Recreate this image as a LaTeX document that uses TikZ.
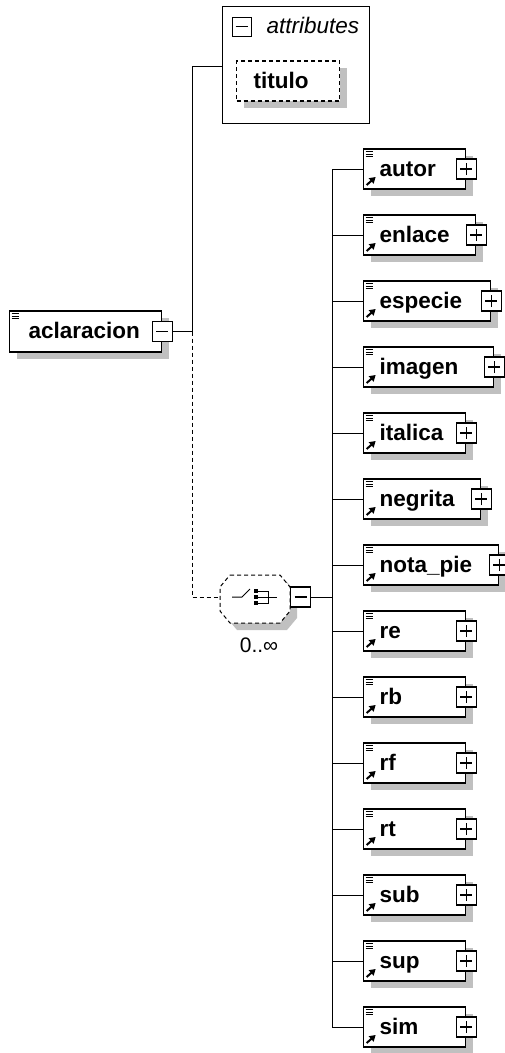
\documentclass[tikz,border=0pt]{standalone}
\usepackage{fontspec}
\setmainfont{Liberation Sans}
\usetikzlibrary{shadows,arrows.meta}

\definecolor{shadowgray}{RGB}{192,192,192}

\tikzset{
  conn/.style={line width=1pt},
  optconn/.style={conn, dash pattern=on 4pt off 3pt},
  boxshadow/.style={general shadow={fill=shadowgray, shadow xshift=7pt, shadow yshift=-7pt}},
  elembase/.style={draw, fill=white, line width=1.3pt, anchor=west,
    inner xsep=0pt, inner ysep=0pt, minimum height=40pt,
    text height=16pt, text depth=2pt, align=left,
    font=\fontsize{22.5}{24}\selectfont\bfseries, boxshadow},
  rootbox/.style={elembase, execute at begin node={\hspace*{19pt}},
    path picture={
      \draw[line width=1pt]
        ([shift={(2,2.5)}]path picture bounding box.north west) -- ++(7,0)
        ([shift={(2,5)}]path picture bounding box.north west) -- ++(7,0)
        ([shift={(2,7.5)}]path picture bounding box.north west) -- ++(7,0);}},
  refbox/.style={elembase, execute at begin node={\hspace*{16pt}},
    path picture={
      \draw[line width=1pt]
        ([shift={(2,2.5)}]path picture bounding box.north west) -- ++(7,0)
        ([shift={(2,5)}]path picture bounding box.north west) -- ++(7,0)
        ([shift={(2,7.5)}]path picture bounding box.north west) -- ++(7,0);
      \draw[line width=2pt, -{Triangle[length=6pt,width=7pt]}]
        ([shift={(3,-4)}]path picture bounding box.south west) -- ++(9,-8);}},
  attrnode/.style={elembase, execute at begin node={\hspace*{17pt}},
    dash pattern=on 4pt off 3pt},
  attrbox/.style={draw, fill=white, line width=1.3pt, inner sep=0pt},
  xbox/.style={draw, fill=white, line width=1.3pt, minimum size=20pt, inner sep=0pt},
  xminus/.style={xbox, path picture={
      \draw[line width=1.3pt] ([xshift=-6pt]path picture bounding box.center)
        -- ([xshift=6pt]path picture bounding box.center);}},
  xplus/.style={xbox, path picture={
      \draw[line width=1.3pt] ([xshift=-6pt]path picture bounding box.center)
        -- ([xshift=6pt]path picture bounding box.center)
        ([yshift=-6pt]path picture bounding box.center)
        -- ([yshift=6pt]path picture bounding box.center);}},
  choicebox/.style={minimum width=70pt, minimum height=48pt, inner sep=0pt},
  attrlbl/.style={anchor=base west, font=\fontsize{22.5}{24}\selectfont\itshape},
  cardlbl/.style={anchor=base, font=\fontsize{21}{23}\selectfont}
}

\begin{document}
\begin{tikzpicture}[x=1pt,y=-1pt]
  \useasboundingbox (0,0) rectangle (504,1053);

  % root element
  \node[rootbox, text width=152, minimum height=41pt] (aclaracion) at (9,331.5) {aclaracion};
  \node[xminus] (aclaracion-x) at (aclaracion.east) {};

  % attributes
  \node[attrbox, anchor=north west, minimum width=147pt, minimum height=117pt] (attrs) at (222,6) {};
  \node[xminus, minimum size=19pt, line width=1pt] (attrs-x) at (241.5,26.5) {};
  \node[attrlbl] (attrs-t) at (263,33) {attributes};
  \node[attrnode, text width=103] (titulo) at (236,81) {titulo};

  % choice
  \node[choicebox] (choice) at (255,599) {};
  \begin{scope}[shift={(choice.center)}]
    \fill[shadowgray, shift={(7,7)}] (-25,-24) -- (25,-24) -- (35,-12) -- (35,12)
      -- (25,24) -- (-25,24) -- (-35,12) -- (-35,-12) -- cycle;
    \draw[optconn, fill=white] (-25,-24) -- (25,-24) -- (35,-12) -- (35,12)
      -- (25,24) -- (-25,24) -- (-35,12) -- (-35,-12) -- cycle;
    \draw[conn] (-23,-2) -- ++(10,0) -- ++(8,-8);
    \fill (-1,-10) rectangle ++(4,4);
    \fill (-1,-4) rectangle ++(4,4);
    \fill (-1,2) rectangle ++(4,4);
    \draw[conn] (3,-8) -- ++(10,0) -- ++(0,12) -- ++(-10,0) (3,-2) -- ++(19,0);
  \end{scope}
  \node[xminus] (choice-x) at (300.5,597) {};
  \node[cardlbl] (card) at (259,652) {0..∞};

  % children
  \node[refbox, text width=102] (autor)    at (363,169)  {autor};
  \node[refbox, text width=112] (enlace)   at (363,235)  {enlace};
  \node[refbox, text width=127] (especie)  at (363,301)  {especie};
  \node[refbox, text width=130] (imagen)   at (363,367)  {imagen};
  \node[refbox, text width=102] (italica)  at (363,433)  {italica};
  \node[refbox, text width=117] (negrita)  at (363,499)  {negrita};
  \node[refbox, text width=135] (notapie)  at (363,565)  {nota\_pie};
  \node[refbox, text width=102] (re)       at (363,631)  {re};
  \node[refbox, text width=102] (rb)       at (363,697)  {rb};
  \node[refbox, text width=102] (rf)       at (363,763)  {rf};
  \node[refbox, text width=102] (rt)       at (363,829)  {rt};
  \node[refbox, text width=102] (sub)      at (363,895)  {sub};
  \node[refbox, text width=102] (sup)      at (363,961)  {sup};
  \node[refbox, text width=102] (sim)      at (363,1027) {sim};

  \node[xplus] (autor-x)   at (autor.east)   {};
  \node[xplus] (enlace-x)  at (enlace.east)  {};
  \node[xplus] (especie-x) at (especie.east) {};
  \node[xplus] (imagen-x)  at (imagen.east)  {};
  \node[xplus] (italica-x) at (italica.east) {};
  \node[xplus] (negrita-x) at (negrita.east) {};
  \node[xplus] (notapie-x) at (notapie.east) {};
  \node[xplus] (re-x)      at (re.east)      {};
  \node[xplus] (rb-x)      at (rb.east)      {};
  \node[xplus] (rf-x)      at (rf.east)      {};
  \node[xplus] (rt-x)      at (rt.east)      {};
  \node[xplus] (sub-x)     at (sub.east)     {};
  \node[xplus] (sup-x)     at (sup.east)     {};
  \node[xplus] (sim-x)     at (sim.east)     {};

  % connectors
  \coordinate (rj) at (192,331.5);
  \coordinate (aj) at (192,66);
  \coordinate (cj) at (192,597);
  \coordinate (trunktop) at (332,169);
  \coordinate (trunkbot) at (332,1027);

  \draw[conn] (aclaracion-x) -- (rj) -- (aj) -- (aj -| attrs.west);
  \draw[optconn] (rj) -- (cj) -- (cj -| choice.west);
  \draw[conn] (choice-x) -- (choice-x -| trunktop);
  \draw[conn] (trunktop) -- (trunkbot);
  \draw[conn] (autor.west -| trunktop)   -- (autor.west);
  \draw[conn] (enlace.west -| trunktop)  -- (enlace.west);
  \draw[conn] (especie.west -| trunktop) -- (especie.west);
  \draw[conn] (imagen.west -| trunktop)  -- (imagen.west);
  \draw[conn] (italica.west -| trunktop) -- (italica.west);
  \draw[conn] (negrita.west -| trunktop) -- (negrita.west);
  \draw[conn] (notapie.west -| trunktop) -- (notapie.west);
  \draw[conn] (re.west -| trunktop)      -- (re.west);
  \draw[conn] (rb.west -| trunktop)      -- (rb.west);
  \draw[conn] (rf.west -| trunktop)      -- (rf.west);
  \draw[conn] (rt.west -| trunktop)      -- (rt.west);
  \draw[conn] (sub.west -| trunktop)     -- (sub.west);
  \draw[conn] (sup.west -| trunktop)     -- (sup.west);
  \draw[conn] (sim.west -| trunktop)     -- (sim.west);

\end{tikzpicture}
\end{document}
